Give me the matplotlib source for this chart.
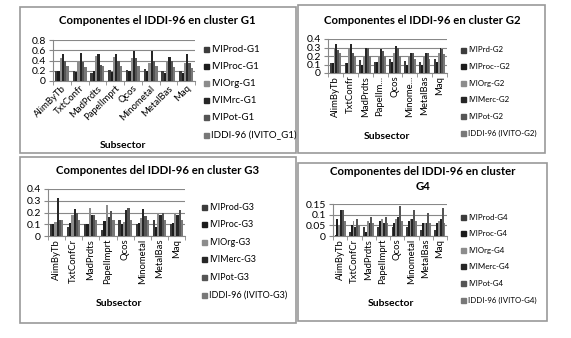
import numpy as np
import matplotlib
matplotlib.use('Agg')
import matplotlib.pyplot as plt
from matplotlib.patches import Rectangle

plt.rcParams['font.family'] = ['Lato', 'DejaVu Sans']

W, H = 571, 338

# categories
cats_g1 = ['AlimByTb', 'TxtConfr', 'MadPrdts', 'PapelImprt', 'Qcos', 'Minometal', 'MetalBas', 'Maq']
cats_g2 = ['AlimByTb', 'TxtConfr', 'MadPrdts', 'PapelIm...', 'Qcos', 'Minome...', 'MetalBas', 'Maq']
cats_g34 = ['AlimByTb', 'TxtConfCr', 'MadPrdts', 'PapelImprt', 'Qcos', 'Minometal', 'MetalBas', 'Maq']

# series per cluster: Prod, Proc, Org, Merc, Pot, IDDI
g1_prod = [0.20, 0.20, 0.15, 0.22, 0.22, 0.24, 0.20, 0.20]
g1_proc = [0.20, 0.18, 0.20, 0.18, 0.20, 0.20, 0.16, 0.16]
g1_org = [0.45, 0.40, 0.48, 0.46, 0.45, 0.35, 0.40, 0.36]
g1_merc = [0.53, 0.54, 0.52, 0.53, 0.58, 0.58, 0.47, 0.52]
g1_pot = [0.40, 0.38, 0.32, 0.40, 0.45, 0.40, 0.40, 0.35]
g1_iddi = [0.30, 0.28, 0.30, 0.30, 0.30, 0.30, 0.28, 0.26]

g2_prod = [0.12, 0.12, 0.15, 0.13, 0.16, 0.14, 0.13, 0.16]
g2_proc = [0.12, 0.12, 0.10, 0.13, 0.13, 0.10, 0.10, 0.13]
g2_org = [0.28, 0.28, 0.20, 0.20, 0.24, 0.20, 0.20, 0.24]
g2_merc = [0.34, 0.34, 0.30, 0.28, 0.32, 0.23, 0.23, 0.30]
g2_pot = [0.27, 0.24, 0.30, 0.26, 0.30, 0.23, 0.23, 0.28]
g2_iddi = [0.24, 0.20, 0.20, 0.20, 0.20, 0.16, 0.16, 0.22]

g3_prod = [0.10, 0.08, 0.10, 0.05, 0.14, 0.10, 0.14, 0.10]
g3_proc = [0.10, 0.11, 0.10, 0.13, 0.10, 0.11, 0.08, 0.11]
g3_org = [0.12, 0.18, 0.24, 0.26, 0.12, 0.15, 0.20, 0.20]
g3_merc = [0.32, 0.23, 0.18, 0.16, 0.22, 0.23, 0.18, 0.18]
g3_pot = [0.14, 0.20, 0.18, 0.21, 0.24, 0.17, 0.20, 0.22]
g3_iddi = [0.14, 0.14, 0.14, 0.14, 0.14, 0.14, 0.14, 0.14]

g4_prod = [0.005, 0.02, 0.04, 0.04, 0.04, 0.04, 0.03, 0.03]
g4_proc = [0.08, 0.05, 0.02, 0.07, 0.06, 0.07, 0.06, 0.06]
g4_org = [0.05, 0.07, 0.07, 0.08, 0.08, 0.08, 0.06, 0.07]
g4_merc = [0.12, 0.04, 0.06, 0.06, 0.09, 0.08, 0.06, 0.08]
g4_pot = [0.12, 0.08, 0.09, 0.09, 0.14, 0.12, 0.11, 0.13]
g4_iddi = [0.07, 0.05, 0.06, 0.06, 0.07, 0.07, 0.06, 0.06]

leg_g1 = ['IVIProd-G1', 'IVIProc-G1', 'IVIOrg-G1', 'IVIMrc-G1', 'IVIPot-G1', 'IDDI-96 (IVITO_G1)']
leg_g2 = ['IVIPrd-G2', 'IVIProc--G2', 'IVIOrg-G2', 'IVIMerc-G2', 'IVIPot-G2', 'IDDI-96 (IVITO-G2)']
leg_g3 = ['IVIProd-G3', 'IVIProc-G3', 'IVIOrg-G3', 'IVIMerc-G3', 'IVIPot-G3', 'IDDI-96 (IVITO-G3)']
leg_g4 = ['IVIProd-G4', 'IVIProc-G4', 'IVIOrg-G4', 'IVIMerc-G4', 'IVIPot-G4', 'IDDI-96 (IVITO-G4)']

colors = ['#3c3c3c', '#1c1c1c', '#8c8c8c', '#262626', '#555555', '#787878']

fig = plt.figure(figsize=(W / 100, H / 100), dpi=100)


def fx(px):
    return px / W


def fy(py):
    return 1 - py / H


def panel(x0, y0, x1, y1):
    fig.patches.append(Rectangle((fx(x0), fy(y1)), fx(x1) - fx(x0), fy(y0) - fy(y1),
                                 transform=fig.transFigure, fill=False,
                                 edgecolor='#999999', linewidth=1.2))


def chart(box, cats, series, labels, ymax, ystep, yfmt, rot, title, title_xy,
          sub_xy, leg_xy, leg_dy, leg_fs):
    x0, y0, x1, y1 = box
    ax = fig.add_axes([fx(x0), fy(y1), fx(x1) - fx(x0), fy(y0) - fy(y1)])
    n = len(series)
    bw = 0.13
    x = np.arange(len(cats))
    for i, s in enumerate(series):
        ax.bar(x + (i - (n - 1) / 2) * bw, s, bw, color=colors[i], linewidth=0, zorder=3)
    ax.set_xlim(-0.5, len(cats) - 0.5)
    ax.set_ylim(0, ymax)
    ticks = np.arange(0, ymax + ystep / 2, ystep)
    ax.set_yticks(ticks)
    ax.set_yticklabels([yfmt(t) for t in ticks], fontsize=7.5)
    ax.yaxis.grid(True, color='#888888', linewidth=0.8, zorder=0)
    ax.set_xticks(x)
    if rot == 45:
        ax.set_xticklabels(cats, fontsize=6.8, rotation=45, ha='right', rotation_mode='anchor')
    else:
        ax.set_xticklabels(cats, fontsize=6.8, rotation=90)
    ax.set_xticks(np.arange(-0.5, len(cats)), minor=True)
    ax.tick_params(axis='x', which='major', length=0, pad=2)
    ax.tick_params(axis='x', which='minor', length=3, color='#888888')
    ax.tick_params(axis='y', length=3, color='#888888', pad=2)
    for sp in ['top', 'right']:
        ax.spines[sp].set_visible(False)
    for sp in ['left', 'bottom']:
        ax.spines[sp].set_color('#888888')
    ax.set_facecolor('none')
    fig.text(fx(title_xy[0]), fy(title_xy[1]), title, fontsize=8.2, fontweight='bold',
             ha='center', va='center', linespacing=1.4)
    fig.text(fx(sub_xy[0]), fy(sub_xy[1]), 'Subsector', fontsize=7.5, fontweight='bold',
             ha='center', va='center')
    for i, lab in enumerate(labels):
        ly = leg_xy[1] + i * leg_dy
        fig.patches.append(Rectangle((fx(leg_xy[0]), fy(ly + 2.5)), fx(5), 5 / H,
                                     transform=fig.transFigure, color=colors[i]))
        fig.text(fx(leg_xy[0] + 7), fy(ly), lab, fontsize=leg_fs, ha='left', va='center')


panel(20, 7, 296, 153)
panel(298, 5, 545, 153)
panel(20, 157, 296, 323)
panel(298, 163, 547, 321)

chart((53, 40, 195, 81), cats_g1, [g1_prod, g1_proc, g1_org, g1_merc, g1_pot, g1_iddi],
      leg_g1, 0.8, 0.2, lambda t: '0' if t == 0 else f'{t:.1f}', 45,
      'Componentes el IDDI-96 en cluster G1', (157, 21), (123, 145), (204, 49), 17.2, 7.0)

chart((328, 39, 447, 73), cats_g2, [g2_prod, g2_proc, g2_org, g2_merc, g2_pot, g2_iddi],
      leg_g2, 0.4, 0.1, lambda t: '0' if t == 0 else f'{t:.1f}', 90,
      'Componentes el IDDI-96 en cluster G2', (422, 21), (387, 136), (461, 50), 16.6, 5.7)

chart((48, 189, 185, 236), cats_g34, [g3_prod, g3_proc, g3_org, g3_merc, g3_pot, g3_iddi],
      leg_g3, 0.4, 0.1, lambda t: '0' if t == 0 else f'{t:.1f}', 90,
      'Componentes del IDDI-96 en cluster G3', (158, 171), (119, 304), (202, 207), 17.6, 6.5)

chart((333, 204, 447, 236), cats_g34, [g4_prod, g4_proc, g4_org, g4_merc, g4_pot, g4_iddi],
      leg_g4, 0.15, 0.05, lambda t: '0' if t == 0 else f'{t:.2f}'.rstrip('0'), 90,
      'Componentes del IDDI-96 en cluster\nG4', (423, 179), (391, 304), (461, 217), 16.6, 5.7)

fig.savefig('out.png', dpi=100)
